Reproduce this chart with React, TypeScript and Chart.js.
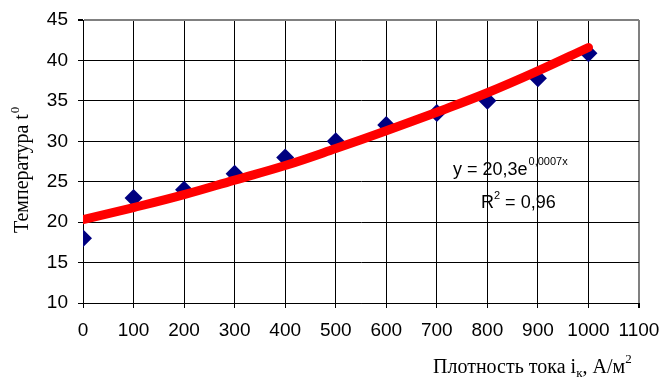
import React, { useEffect, useRef } from "react";
import { Chart, registerables } from "chart.js";

Chart.register(...registerables);

const currentDensity = [0, 100, 200, 300, 400, 500, 600, 700, 800, 900, 1000];
const temperature = [18, 23, 24, 26, 28, 30, 32, 33.5, 35, 37.8, 40.9];
const trendTemperature = [20.3, 21.8, 23.4, 25.2, 27.0, 29.1, 31.3, 33.6, 36.0, 38.7, 41.6];
const yTitle = "Температура t";
const xTitle = "Плотность тока i";
const equationMain = "y = 20,3e";
const equationExp = "0,0007x";
const r2Text = "R";
const r2Value = " = 0,96";

const textPlugin = {
  id: "texts",
  afterDraw(chart: any) {
    const ctx = chart.ctx;
    ctx.save();
    ctx.fillStyle = "#000";
    ctx.textBaseline = "alphabetic";
    const sans = "'Liberation Sans', Arial, sans-serif";
    // equation
    ctx.font = `18px ${sans}`;
    ctx.textAlign = "left";
    let x = 453;
    ctx.fillText(equationMain, x, 175);
    x += ctx.measureText(equationMain).width;
    ctx.font = `11px ${sans}`;
    ctx.fillText(equationExp, x + 1, 165);
    ctx.font = `18px ${sans}`;
    x = 481;
    ctx.fillText(r2Text, x, 208);
    x += ctx.measureText(r2Text).width;
    ctx.font = `11px ${sans}`;
    ctx.fillText("2", x, 199);
    x += ctx.measureText("2").width;
    ctx.font = `18px ${sans}`;
    ctx.fillText(r2Value, x, 208);

    // x title
    const serif = "'Liberation Serif', 'Times New Roman', serif";
    ctx.font = `20px ${serif}`;
    x = 433;
    ctx.fillText(xTitle, x, 373);
    x += ctx.measureText(xTitle).width;
    ctx.font = `13px ${serif}`;
    ctx.fillText("к", x, 377);
    x += ctx.measureText("к").width;
    ctx.font = `20px ${serif}`;
    ctx.fillText(", А/м", x, 373);
    x += ctx.measureText(", А/м").width;
    ctx.font = `13px ${serif}`;
    ctx.fillText("2", x, 363);

    // y title rotated
    ctx.translate(28, 233);
    ctx.rotate(-Math.PI / 2);
    ctx.font = `20px ${serif}`;
    ctx.fillText(yTitle, 0, 0);
    const w = ctx.measureText(yTitle).width;
    ctx.font = `13px ${serif}`;
    ctx.fillText("0", w + 1, -9);
    ctx.restore();
  },
};

export default function App() {
  const ref = useRef<HTMLCanvasElement>(null);
  useEffect(() => {
    const chart = new Chart(ref.current!, {
      type: "scatter",
      data: {
        datasets: [
          {
            label: "trend",
            data: currentDensity.map((v, i) => ({ x: v, y: trendTemperature[i] })),
            showLine: true,
            borderColor: "#FF0000",
            borderWidth: 9,
            borderCapStyle: "round",
            tension: 0.4,
            pointRadius: 0,
          },
          {
            label: "data",
            data: currentDensity.map((v, i) => ({ x: v, y: temperature[i] })),
            pointStyle: "rectRot",
            pointRadius: 9,
            backgroundColor: "#000080",
            borderColor: "#000080",
            borderWidth: 0,
          },
        ],
      },
      options: {
        responsive: false,
        animation: false,
        layout: { padding: { left: 0, top: 20, right: 26, bottom: 0 } },
        plugins: { legend: { display: false }, tooltip: { enabled: false } },
        scales: {
          x: {
            type: "linear",
            min: 0,
            max: 1100,
            afterFit: (s: any) => {
              s.height = 76;
              s.paddingLeft = 0;
              s.paddingRight = 0;
            },
            ticks: {
              stepSize: 100,
              color: "#000",
              padding: 11,
              maxRotation: 0,
              autoSkip: false,
              callback: (v: any) => String(v),
              font: { size: 19, family: "'Liberation Sans', Arial, sans-serif" },
            },
            grid: {
              color: (c: any) => (c.tick && c.tick.value === 1100 ? "#808080" : "#000"),
              lineWidth: (c: any) => (c.tick && c.tick.value === 1100 ? 2 : 1),
              tickColor: "#000",
              tickLength: 5,
            },
            border: { color: "#000", width: 1 },
          },
          y: {
            min: 10,
            max: 45,
            afterFit: (s: any) => {
              s.width = 83;
              s.paddingTop = 0;
              s.paddingBottom = 0;
            },
            ticks: {
              stepSize: 5,
              color: "#000",
              padding: 10,
              font: { size: 19, family: "'Liberation Sans', Arial, sans-serif" },
            },
            grid: {
              color: (c: any) => (c.tick && c.tick.value === 45 ? "#808080" : "#000"),
              lineWidth: (c: any) => (c.tick && c.tick.value === 45 ? 2 : 1),
              tickColor: "#000",
              tickLength: 5,
            },
            border: { color: "#000", width: 1 },
          },
        },
      },
      plugins: [textPlugin],
    });
    return () => chart.destroy();
  }, []);
  return (
    <div style={{ position: "absolute", left: 0, top: 0, width: 665, height: 379, background: "#fff" }}>
      <canvas ref={ref} width={665} height={379} />
    </div>
  );
}
